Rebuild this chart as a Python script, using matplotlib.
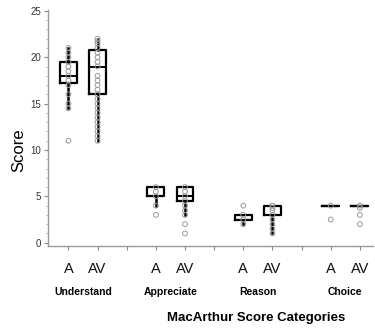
import matplotlib
matplotlib.use("Agg")
import matplotlib.pyplot as plt

plt.rcParams['font.family'] = ['Liberation Sans', 'DejaVu Sans']

categories = ["Understand", "Appreciate", "Reason", "Choice"]
groups = ["A", "AV"]
positions = [1, 2, 4, 5, 7, 8, 10, 11]
tick_positions = list(range(1, 12))
tick_labels = ["A", "AV", "", "A", "AV", "", "A", "AV", "", "A", "AV"]

# box statistics per group (q1, median, q3, whisker low, whisker high)
q1 = [17.25, 16, 5, 4.5, 2.5, 3, 4, 4]
med = [18, 19, 5, 5, 3, 4, 4, 4]
q3 = [19.5, 20.75, 6, 6, 3, 4, 4, 4]
whislo = [14.5, 11, 4, 3, 2, 1, 4, 4]
whishi = [21, 22, 6, 6, 3, 4, 4, 4]

# individual scores (gray circles)
points = [
    [21, 20.5, 20, 19.5, 19, 18.5, 18, 17.5, 17, 16, 15, 14.5, 11],
    [22, 21.75, 21.5, 21, 20.5, 20, 19.5, 19, 18, 17.5, 17, 16.5, 16, 15.5,
     15, 14.5, 14, 13.5, 13, 12.5, 12, 11.5, 11],
    [6, 5.5, 5, 4, 3],
    [6, 5.5, 5, 4.5, 4, 3.5, 3, 2, 1],
    [4, 3, 2.5, 2],
    [4, 3.75, 3.5, 3, 2.5, 2, 1.5, 1],
    [4, 2.5],
    [4, 3.75, 3, 2],
]

fig = plt.figure(figsize=(3.75, 3.31), dpi=100)
ax = fig.add_axes([48/375, 1-245.5/331, 325/375, 235.5/331])

stats = []
for i in range(len(positions)):
    stats.append(dict(q1=q1[i], med=med[i], q3=q3[i], whislo=whislo[i],
                      whishi=whishi[i], fliers=[]))

ax.bxp(stats, positions=positions, widths=0.58, showcaps=False,
       showfliers=False, patch_artist=False,
       boxprops=dict(color='black', linewidth=1.6),
       whiskerprops=dict(color='black', linewidth=1.8),
       medianprops=dict(color='black', linewidth=1.4))

for pos, pts in zip(positions, points):
    ax.scatter([pos]*len(pts), pts, s=12, facecolors='none',
               edgecolors='#999999', linewidths=0.7, zorder=3)

ax.set_xlim(0.3, 11.45)
ax.set_ylim(-0.3, 25.1)
ax.set_xticks(tick_positions)
ax.set_xticklabels(tick_labels, fontsize=10.5, color='#111111')
ax.set_yticks([0, 5, 10, 15, 20, 25])
ax.set_yticks(range(0, 26), minor=True)
ax.tick_params(axis='x', length=3, color='#888888', pad=9)
ax.tick_params(axis='y', which='major', length=3, color='#888888',
               labelsize=7, labelcolor='#333333', pad=2)
ax.tick_params(axis='y', which='minor', length=1.5, color='#aaaaaa')

for s in ['top', 'right']:
    ax.spines[s].set_visible(False)
for s in ['left', 'bottom']:
    ax.spines[s].set_color('#999999')
    ax.spines[s].set_linewidth(1.0)

ax.set_ylabel("Score", fontsize=12)
ax.yaxis.set_label_coords(-(48 - 26) / 325, (245.5 - 150) / 235.5)

cat_centers = [1.5, 4.5, 7.5, 10.5]
for c, name in zip(cat_centers, categories):
    xfig = (48 + (c - 0.3) / (11.45 - 0.3) * 325) / 375
    fig.text(xfig, 1 - 292/331, name, ha='center', va='center',
             fontsize=7.5, fontweight='bold')

fig.text(256/375, 1 - 318/331, "MacArthur Score Categories", ha='center',
         va='center', fontsize=9.5, fontweight='bold')

fig.savefig("out.png", dpi=100)
